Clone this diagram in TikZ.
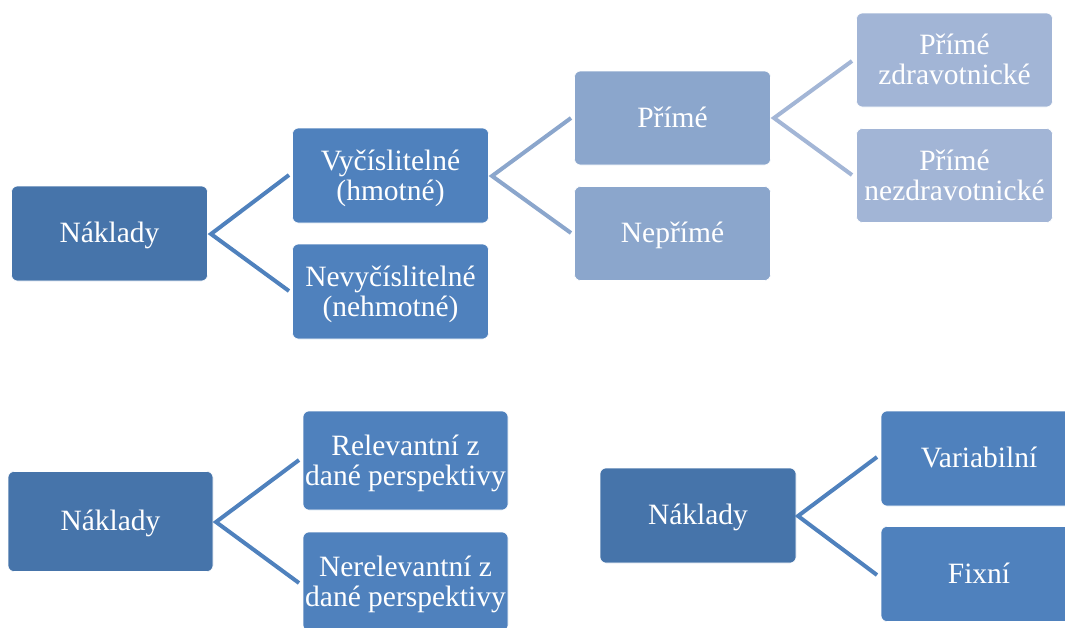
\documentclass[tikz,border=0pt]{standalone}
\usepackage{fontspec}
\setmainfont{Liberation Serif}
\definecolor{cA}{RGB}{70,116,170}
\definecolor{cB}{RGB}{79,129,189}
\definecolor{cC}{RGB}{139,166,204}
\definecolor{cD}{RGB}{162,181,214}
\definecolor{lB}{RGB}{79,129,189}
\definecolor{lC}{RGB}{139,166,204}
\definecolor{lD}{RGB}{163,182,214}
\newcommand\one[1]{\raisebox{-9pt}[0pt][0pt]{#1}}
\newcommand\two[2]{\raisebox{5.5pt}[0pt][0pt]{\begin{tabular}[t]{@{}c@{}}#1\\#2\end{tabular}}}
\tikzset{
  box/.style={rounded corners=6pt, inner sep=0pt, text=white,
    font=\fontsize{29.5}{30}\selectfont, draw=white, line width=0.6pt},
  conn/.style={line width=4pt, line join=miter},
}
\begin{document}
\begin{tikzpicture}[x=1pt,y=-1pt]
\useasboundingbox (0,0) rectangle (1065,627);
\begin{scope}
\clip (0,0) rectangle (1065,627);
% top diagram
\node[box, fill=cA, minimum width=196pt, minimum height=95pt] (n1) at (109.5,233.5) {\one{Náklady}};
\node[box, fill=cB, minimum width=196pt, minimum height=95pt] (v) at (390.5,175.5) {\two{Vyčíslitelné}{(hmotné)}};
\node[box, fill=cB, minimum width=196pt, minimum height=95pt] (nv) at (390.5,291.5) {\two{Nevyčíslitelné}{(nehmotné)}};
\node[box, fill=cC, minimum width=196pt, minimum height=94pt] (p) at (672.5,118) {\one{Přímé}};
\node[box, fill=cC, minimum width=196pt, minimum height=94pt] (np) at (672.5,233.5) {\one{Nepřímé}};
\node[box, fill=cD, minimum width=196pt, minimum height=94pt] (pz) at (954.5,60) {\two{Přímé}{zdravotnické}};
\node[box, fill=cD, minimum width=196pt, minimum height=94pt] (pn) at (954.5,175.5) {\two{Přímé}{nezdravotnické}};
% bottom left
\node[box, fill=cA, minimum width=205pt, minimum height=100pt] (n2) at (110.5,521.5) {\one{Náklady}};
\node[box, fill=cB, minimum width=205pt, minimum height=99pt] (r) at (405.5,460.5) {\two{Relevantní z}{dané perspektivy}};
\node[box, fill=cB, minimum width=205pt, minimum height=99pt] (nr) at (405.5,581.5) {\two{Nerelevantní z}{dané perspektivy}};
% bottom right
\node[box, fill=cA, minimum width=196pt, minimum height=95pt] (n3) at (698,515.5) {\one{Náklady}};
\node[box, fill=cB, minimum width=196pt, minimum height=95pt] (va) at (979,458.5) {\one{Variabilní}};
\node[box, fill=cB, minimum width=196pt, minimum height=95pt] (fx) at (979,574) {\one{Fixní}};
\end{scope}
% connector coordinates
\coordinate (t1) at (211,234);
\coordinate (e1a) at (289,175);
\coordinate (e1b) at (289,291);
\coordinate (t2) at (492,176);
\coordinate (e2a) at (571,118);
\coordinate (e2b) at (571,233);
\coordinate (t3) at (774,118);
\coordinate (e3a) at (852,61);
\coordinate (e3b) at (852,175);
\coordinate (t4) at (216,522);
\coordinate (e4a) at (299,460);
\coordinate (e4b) at (299,583);
\coordinate (t5) at (798,516);
\coordinate (e5a) at (877,457);
\coordinate (e5b) at (877,575);
\draw[conn, lB] (e1a) -- (t1) -- (e1b);
\draw[conn, lC] (e2a) -- (t2) -- (e2b);
\draw[conn, lD] (e3a) -- (t3) -- (e3b);
\draw[conn, lB] (e4a) -- (t4) -- (e4b);
\draw[conn, lB] (e5a) -- (t5) -- (e5b);
\end{tikzpicture}
\end{document}
